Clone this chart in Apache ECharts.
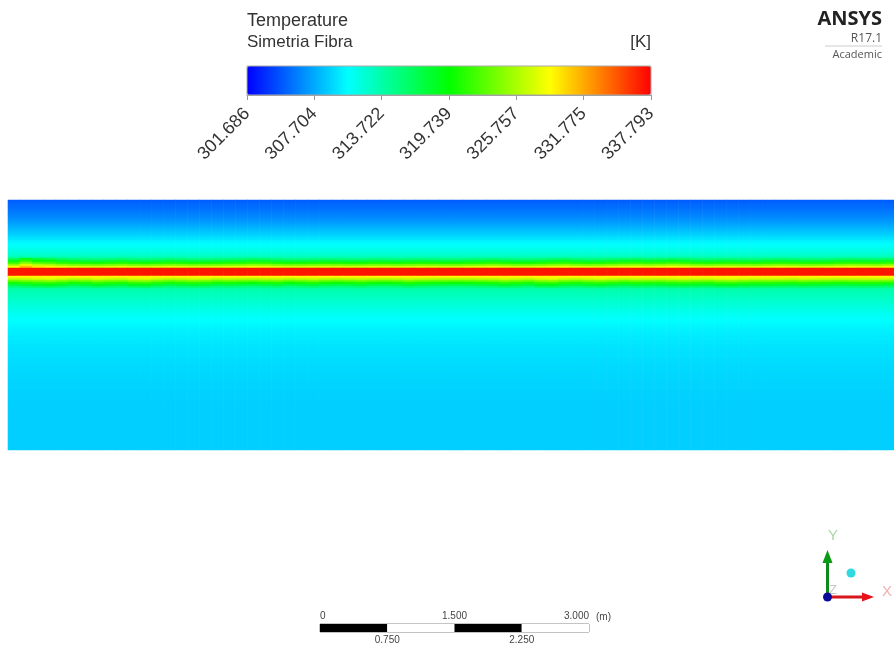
<!DOCTYPE html>
<html>
<head>
<meta charset="utf-8">
<style>html,body{margin:0;padding:0;background:#fff}#c{width:894px;height:645px}</style>
<script src="https://cdn.jsdelivr.net/npm/echarts@6/dist/echarts.min.js"></script>
</head>
<body>
<div id="c"></div>
<script>
const colorbarTicks = ['301.686','307.704','313.722','319.739','325.757','331.775','337.793'];
const tempMin = 301.686;
const tempMax = 337.793;
const rainbow = ['#0000ff','#00ffff','#00ff00','#ffff00','#ff0000'];

// temperature by row, top to bottom of the plane (K)
const rowTemps = [
 305.0,305.2,305.4,305.5,305.7,305.9,306.1,306.3,306.5,306.8,
 307.0,307.3,307.6,307.9,308.2,308.5,308.8,309.1,309.5,309.8,
 310.2,310.5,310.8,311.1,311.4,311.7,312.0,312.5,313.2,314.8,
 317.2,320.0,323.6,327.0,337.1,337.1,337.1,337.1,329.0,326.0,
 323.0,320.0,317.2,315.0,314.0,313.5,313.3,313.1,312.9,312.7,
 312.5,312.3,312.1,311.9,311.7,311.5,311.3,311.1,311.0,310.8,
 310.7,310.6,310.5,310.4,310.3,310.2,310.1,310.1,310.0,310.0,
 309.9,309.9,309.8,309.8,309.7,309.7,309.6,309.6,309.6,309.5,
 309.5,309.5,309.4,309.4,309.4,309.4,309.3,309.3,309.3,309.3,
 309.2,309.2,309.2,309.2,309.2,309.1,309.1,309.1,309.1,309.1,
 309.1,309.0,309.0,309.0,309.0,309.0,309.0,309.0,309.0,309.0,
 309.0,309.0,309.0,309.0,309.0,309.0,309.0,309.0,309.0,309.0,
 309.0,309.0,309.0,309.0,309.0
];
// row groups touched by the along-fibre unevenness
const upperFringeRows = [29,30,31,32,33];
const lowerFringeRows = [39,40,41,42,43];
// along-fibre temperature offsets just above and below the fibre (K)
const upperRipple = [
 1.5,4.0,2.5,2.0,1.0,0.5,0.2,0.0,0.3,0.6,0.2,0.0,0.2,0.5,0.3,0.0,0.0,0.2,0.4,0.6,
 1.0,0.8,0.3,0.0,0.0,0.2,0.4,0.2,0.0,0.0,0.3,0.2,0.0,0.2,0.4,0.2,0.0,0.0,0.3,0.5,
 0.8,0.4,0.0,0.0,0.3,0.8,1.0,0.5,0.2,0.3,0.7,1.0,1.2,0.8,1.0,1.4,1.0,0.4,0.2,0.4,
 0.5,0.3,0.2,0.6,0.8,0.6,0.3,0.2,0.4,0.8,1.0,0.8,0.6,1.0
];
const lowerRipple = [
 0.5,1.0,1.5,1.8,1.2,0.5,0.8,1.5,1.0,0.8,1.6,1.8,1.0,0.5,0.8,1.2,1.0,0.4,0.6,0.4,
 0.2,0.6,0.8,0.2,0.6,1.0,0.5,0.2,0.5,0.8,0.4,0.2,0.5,1.0,0.6,0.4,0.3,0.2,0.3,0.6,
 0.8,1.4,1.0,0.6,1.6,1.8,1.0,0.7,1.2,1.5,1.0,0.6,1.0,0.9,0.8,1.2,1.4,1.2,1.0,1.6,
 1.8,1.4,1.1,1.2,1.0,0.8,1.2,1.0,0.8,0.6,0.8,1.0,1.0,0.8
];
const scaleSegments = [0.75,0.75,0.75,0.75];
const scaleUpperTicks = [0,1.5,3];
const scaleLowerTicks = [0.75,2.25];

const cells = [];
rowTemps.forEach((t, r) => {
  upperRipple.forEach((_, c) => {
    let v = t;
    if (upperFringeRows.includes(r)) v += upperRipple[c];
    if (lowerFringeRows.includes(r)) v += lowerRipple[c];
    cells.push([c, r, v]);
  });
});

const sans = '"Liberation Sans",Arial,sans-serif';
const logo = '"Open Sans","Noto Sans",sans-serif';

const chart = echarts.init(document.getElementById('c'), null, {renderer:'canvas'});
chart.setOption({
  animation:false,
  backgroundColor:'#fff',
  title:[
    {text:'Temperature',left:247,top:12,padding:0,textStyle:{fontFamily:sans,fontSize:18,fontWeight:'normal',color:'#333'}},
    {text:'Simetria Fibra',left:247,top:34,padding:0,textStyle:{fontFamily:sans,fontSize:17,fontWeight:'normal',color:'#333'}},
    {text:'[K]',right:243,top:34,padding:0,textStyle:{fontFamily:sans,fontSize:17,fontWeight:'normal',color:'#333'}},
    {text:'ANSYS',right:12,top:9,padding:0,textStyle:{fontFamily:logo,fontSize:20,fontWeight:'bold',color:'#222'}},
    {text:'R17.1',right:12,top:33,padding:0,textStyle:{fontFamily:logo,fontSize:12,fontWeight:'normal',color:'#555'}},
    {text:'Academic',right:12,top:49,padding:0,textStyle:{fontFamily:logo,fontSize:11,fontWeight:'normal',color:'#555'}}
  ],
  grid:[
    {left:8,top:200,width:886,height:250,show:false},
    {left:247,top:66,width:404,height:29,show:false},
    {left:320,top:624,width:269,height:8,show:true,borderColor:'#888',borderWidth:1,backgroundColor:'#fff'}
  ],
  xAxis:[
    {gridIndex:0,type:'category',data:upperRipple.map((_,i)=>i),show:false},
    {gridIndex:1,type:'category',data:colorbarTicks,boundaryGap:false,position:'bottom',
     axisLine:{show:true,lineStyle:{color:'#999'}},
     axisTick:{show:true,length:5,alignWithLabel:true,lineStyle:{color:'#999'}},
     axisLabel:{interval:0,rotate:45,margin:16,fontFamily:sans,fontSize:18,color:'#333',hideOverlap:false},
     splitLine:{show:false}},
    {gridIndex:2,type:'value',min:0,max:3,interval:1.5,position:'top',
     axisLine:{show:false},axisTick:{show:false},splitLine:{show:false},
     axisLabel:{show:true,margin:3,fontFamily:sans,fontSize:10,color:'#444',alignMinLabel:'left',alignMaxLabel:'right',
       formatter:v=>scaleUpperTicks.includes(v)?(v===0?'0':v.toFixed(3)):''}},
    {gridIndex:2,type:'value',min:0,max:3,interval:0.75,position:'bottom',
     axisLine:{show:false},axisTick:{show:false},splitLine:{show:false},
     axisLabel:{show:true,margin:3,fontFamily:sans,fontSize:10,color:'#444',
       formatter:v=>scaleLowerTicks.includes(v)?v.toFixed(3):''}}
  ],
  yAxis:[
    {gridIndex:0,type:'category',inverse:true,data:rowTemps.map((_,i)=>i),show:false},
    {gridIndex:1,type:'value',show:false},
    {gridIndex:2,type:'category',data:['bar'],show:false}
  ],
  visualMap:{
    type:'continuous',seriesIndex:0,min:tempMin,max:tempMax,
    orient:'horizontal',left:247,top:66,itemWidth:29,itemHeight:404,padding:0,
    calculable:false,realtime:false,showLabel:false,text:null,
    inRange:{color:rainbow}
  },
  series:[
    {type:'heatmap',xAxisIndex:0,yAxisIndex:0,data:cells,progressive:0,silent:true,
     itemStyle:{borderWidth:0},emphasis:{disabled:true}},
    ...scaleSegments.map((v,i)=>({
      type:'bar',xAxisIndex:2,yAxisIndex:2,stack:'scale',barWidth:'100%',silent:true,
      data:[v],itemStyle:{color:i%2===0?'#000':'#fff',borderWidth:0}
    }))
  ],
  graphic:[
    {type:'text',left:596,top:612,style:{text:'(m)',font:'10px '+sans,fill:'#444'}},
    {type:'line',shape:{x1:825,y1:46,x2:882,y2:46},style:{stroke:'#ccc',lineWidth:1}},
    {type:'rect',shape:{x:247,y:66,width:404,height:29},style:{fill:'none',stroke:'#aaa',lineWidth:1},z:10},
    {type:'line',shape:{x1:827.5,y1:597,x2:827.5,y2:560},style:{stroke:'#0d8a1a',lineWidth:3},z:10},
    {type:'polygon',shape:{points:[[827.5,550],[822.5,563],[832.5,563]]},style:{fill:'#0a9a14'},z:10},
    {type:'line',shape:{x1:827.5,y1:597,x2:863,y2:597},style:{stroke:'#d8141c',lineWidth:3},z:10},
    {type:'polygon',shape:{points:[[874,597],[862,592.5],[862,601.5]]},style:{fill:'#e8101a'},z:10},
    {type:'circle',shape:{cx:827.5,cy:597,r:4.5},style:{fill:'#0a0a9a'},z:11},
    {type:'circle',shape:{cx:851,cy:573,r:4.5},style:{fill:'#30d8e0'},z:11},
    {type:'text',left:828,top:528,style:{text:'Y',font:'15px '+sans,fill:'#a8d8a8'},z:10},
    {type:'text',left:882,top:584,style:{text:'X',font:'15px '+sans,fill:'#f0b0b0'},z:10},
    {type:'text',left:829,top:584,style:{text:'Z',font:'13px '+sans,fill:'#c8c8c8'},z:9}
  ]
});
</script>
</body>
</html>
